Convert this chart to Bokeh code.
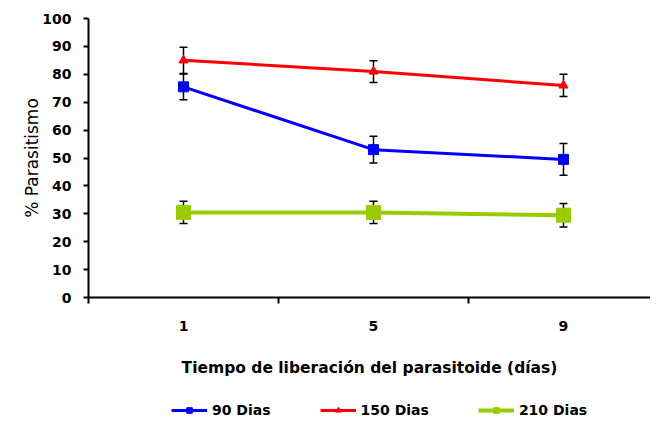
from bokeh.plotting import figure
from bokeh.models import Range1d, FixedTicker, Legend, LegendItem, Whisker, ColumnDataSource
from bokeh.layouts import column
from bokeh.embed import file_html
from bokeh.resources import INLINE

# Data
categories = ["1", "5", "9"]
xpos = [1, 2, 3]
dias90 = [75.5, 53.0, 49.5]
dias90_err = [4.6, 4.8, 5.7]
dias150 = [85.0, 81.0, 76.0]
dias150_err = [4.7, 3.9, 4.0]
dias210 = [30.5, 30.5, 29.5]
dias210_err = [4.0, 4.0, 4.2]
y_ticks = [0, 10, 20, 30, 40, 50, 60, 70, 80, 90, 100]
series_labels = ["90 Dias", "150 Dias", "210 Dias"]

FONT = "DejaVu Sans"

p = figure(width=650, height=380, output_backend="svg", toolbar_location=None,
           x_range=Range1d(0.5, 3.458), y_range=Range1d(0, 100),
           min_border_left=88, min_border_top=18, min_border_right=0, min_border_bottom=83)
p.outline_line_color = None
p.xgrid.visible = False
p.ygrid.visible = False

# axes
xa = p.xaxis[0]
xa.ticker = FixedTicker(ticks=xpos, minor_ticks=[0.5, 1.5, 2.5, 3.5])
xa.major_label_overrides = {x: c for x, c in zip(xpos, categories)}
xa.major_tick_out = 0
xa.major_tick_in = 0
xa.minor_tick_out = 6
xa.minor_tick_in = 0
xa.minor_tick_line_width = 2
xa.minor_tick_line_color = "black"
xa.axis_line_width = 2
xa.axis_line_color = "black"
xa.major_label_text_font = FONT
xa.major_label_text_font_style = "bold"
xa.major_label_text_font_size = "14px"
xa.major_label_text_color = "black"
xa.major_label_standoff = 17
xa.axis_label = "Tiempo de liberación del parasitoide (días)"
xa.axis_label_text_font = FONT
xa.axis_label_text_font_style = "bold"
xa.axis_label_text_font_size = "15.5px"
xa.axis_label_text_color = "black"
xa.axis_label_standoff = 25

ya = p.yaxis[0]
ya.ticker = FixedTicker(ticks=y_ticks, minor_ticks=[])
ya.major_tick_out = 5
ya.major_tick_in = 0
ya.major_tick_line_width = 2
ya.axis_line_width = 2
ya.axis_line_color = "black"
ya.major_label_text_font = FONT
ya.major_label_text_font_style = "bold"
ya.major_label_text_font_size = "14px"
ya.major_label_text_color = "black"
ya.major_label_standoff = 12
ya.axis_label = "% Parasitismo"
ya.axis_label_text_font = FONT
ya.axis_label_text_font_style = "normal"
ya.axis_label_text_font_size = "17px"
ya.axis_label_text_color = "black"
ya.axis_label_standoff = -3

styles = [
    ("#0000FF", "square", 10, 3),
    ("#FF0000", "triangle", 9, 3),
    ("#99CC00", "square", 14, 4),
]
values = [dias90, dias150, dias210]
errors = [dias90_err, dias150_err, dias210_err]

whisk_sources = []
for vals, errs, (color, marker, size, lw) in zip(values, errors, styles):
    src = ColumnDataSource(dict(x=xpos, y=vals,
                                lo=[v - e for v, e in zip(vals, errs)],
                                hi=[v + e for v, e in zip(vals, errs)]))
    p.line("x", "y", source=src, line_color=color, line_width=lw)
    p.scatter("x", "y", source=src, marker=marker, size=size,
              fill_color=color, line_color=color)
    whisk_sources.append(src)

for src in whisk_sources:
    w = Whisker(base="x", lower="lo", upper="hi", source=src,
                line_color="black", line_width=1.5)
    w.upper_head.size = 8
    w.lower_head.size = 8
    w.upper_head.line_width = 1.5
    w.lower_head.line_width = 1.5
    p.add_layout(w)

# legend strip (its renderers hold the series, drawn outside its visible range)
lg = figure(width=650, height=41, output_backend="svg", toolbar_location=None,
            x_range=Range1d(100, 101), y_range=Range1d(100, 101),
            min_border_left=0, min_border_right=0, min_border_top=0, min_border_bottom=0,
            x_axis_location=None, y_axis_location=None)
lg.outline_line_color = None
lg.xgrid.visible = False
lg.ygrid.visible = False
items = []
for label, vals, (color, marker, size, lw) in zip(series_labels, values, styles):
    lr = lg.line(x=xpos, y=vals, line_color=color, line_width=lw)
    sr = lg.scatter(x=xpos, y=vals, marker=marker, size=size, fill_color=color, line_color=color)
    items.append(LegendItem(label=label, renderers=[lr, sr]))

legend = Legend(items=items, orientation="horizontal", location=(83, 3),
                label_text_font=FONT, label_text_font_style="bold",
                label_text_font_size="14px", label_text_color="black",
                glyph_width=36, glyph_height=14, label_standoff=5, spacing=49,
                border_line_color=None, background_fill_alpha=0,
                margin=0, padding=4)
lg.add_layout(legend, "center")

layout = column(p, lg, spacing=0)
open("out.html", "w").write(file_html(layout, INLINE))
